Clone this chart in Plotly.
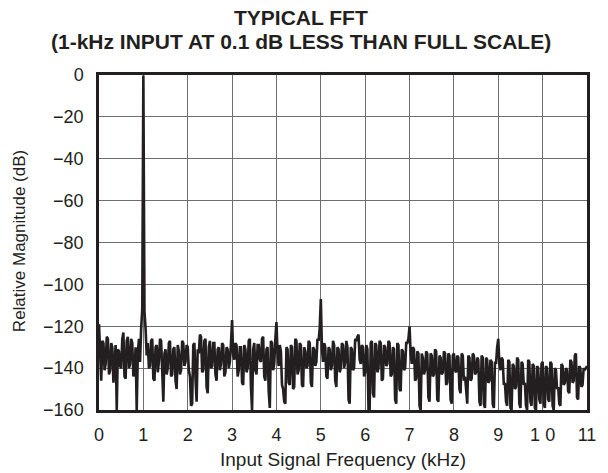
import plotly.graph_objects as go

# Frequency grid: 0 to 11 kHz in 0.025 kHz steps (x0/dx below)
freq_start_khz = 0.0
freq_step_khz = 0.025

# Relative magnitude (dB), one value per 0.025 kHz
noise_db = [
    # 0.000 - 0.975
    -119, -138, -146, -127, -128, -141, -138, -125, -126, -143, -141, -128, -130, -147, -136, -129, -160, -131, -132, -139,
    -140, -126, -123, -144, -145, -127, -125, -140, -138, -126, -128, -144, -142, -130, -160, -133, -126, -137, -121, -112,
    # 1.000 - 1.975
    -0.3, -113, -121, -134, -128, -140, -139, -127, -126, -145, -146, -130, -129, -142, -137, -126, -127, -148, -156, -133,
    -131, -143, -140, -128, -127, -144, -143, -131, -130, -146, -150, -129, -132, -143, -141, -127, -128, -139, -137, -129,
    # 2.000 - 2.975
    -130, -141, -144, -158, -157, -129, -128, -145, -156, -131, -133, -124, -125, -142, -141, -127, -126, -149, -152, -130,
    -127, -140, -139, -128, -128, -143, -146, -131, -130, -141, -138, -128, -129, -144, -142, -130, -131, -140, -137, -128,
    # 3.000 - 3.975
    -117, -134, -136, -128, -129, -144, -141, -130, -130, -147, -148, -129, -131, -142, -140, -127, -126, -149, -160, -131,
    -128, -141, -143, -129, -129, -136, -137, -126, -125, -144, -146, -131, -130, -151, -159, -127, -128, -141, -138, -126,
    # 4.000 - 4.975
    -118, -133, -139, -129, -132, -148, -150, -156, -157, -130, -131, -147, -148, -129, -130, -150, -149, -126, -127, -143,
    -141, -128, -129, -148, -149, -130, -132, -140, -139, -127, -128, -147, -149, -130, -131, -139, -137, -126, -127, -121,
    # 5.000 - 5.975
    -107, -131, -137, -128, -130, -144, -145, -130, -131, -141, -139, -127, -129, -146, -149, -130, -131, -142, -140, -128,
    -129, -140, -137, -127, -130, -155, -157, -130, -131, -141, -140, -126, -127, -125, -124, -136, -138, -129, -130, -144,
    # 6.000 - 6.975
    -142, -129, -131, -160, -160, -128, -127, -152, -154, -128, -129, -142, -140, -127, -128, -146, -145, -129, -130, -139,
    -138, -127, -128, -144, -143, -130, -131, -155, -157, -128, -129, -150, -151, -131, -132, -141, -140, -128, -128, -126,
    # 7.000 - 7.975
    -120, -133, -138, -130, -131, -146, -145, -132, -133, -158, -160, -133, -135, -143, -141, -132, -133, -154, -156, -133,
    -134, -144, -143, -131, -132, -155, -156, -134, -135, -143, -142, -132, -133, -148, -147, -133, -134, -155, -157, -134,
    # 8.000 - 8.975
    -133, -141, -142, -134, -135, -150, -152, -133, -134, -146, -144, -150, -157, -134, -135, -146, -145, -133, -134, -143,
    -142, -135, -136, -156, -158, -134, -135, -157, -159, -135, -136, -147, -146, -136, -137, -157, -159, -137, -138, -130,
    # 9.000 - 9.975
    -126, -138, -141, -135, -136, -148, -147, -156, -158, -136, -137, -159, -160, -138, -139, -150, -149, -135, -136, -157,
    -159, -137, -138, -148, -147, -158, -160, -136, -137, -156, -158, -138, -139, -159, -160, -139, -140, -155, -157, -138,
    # 10.000 - 10.975
    -137, -157, -159, -139, -140, -155, -156, -137, -138, -158, -160, -140, -141, -150, -149, -157, -158, -138, -139, -148,
    -147, -140, -141, -151, -152, -136, -137, -147, -146, -134, -133, -154, -155, -139, -140, -149, -148, -140, -141, -140,
    # 11.000
    -139,
]

x_tick_vals = [0, 1, 2, 3, 4, 5, 6, 7, 8, 9, 10, 11]
x_tick_text = ["0", "1", "2", "3", "4", "5", "6", "7", "8", "9", "1 0", "11"]
y_tick_vals = [0, -20, -40, -60, -80, -100, -120, -140, -160]

title_line1 = "TYPICAL FFT"
title_line2 = "(1-kHz INPUT AT 0.1 dB LESS THAN FULL SCALE)"
x_title = "Input Signal Frequency (kHz)"
y_title = "Relative Magnitude (dB)"

font_family = "Liberation Sans, Arial, sans-serif"
ink = "#231f20"

W, H = 608, 473
L, R, T, B = 99, 14, 75, 63
pw, ph = W - L - R, H - T - B


def px_to_paper_x(px):
    return (px - L) / pw


def px_to_paper_y(py):
    return (H - B - py) / ph


fig = go.Figure()
fig.add_trace(go.Scatter(
    x0=freq_start_khz, dx=freq_step_khz, y=noise_db,
    mode="lines",
    line=dict(color=ink, width=2.6),
    showlegend=False,
    hoverinfo="skip",
))

fig.update_layout(
    width=W, height=H,
    margin=dict(l=L, r=R, t=T, b=B),
    paper_bgcolor="white", plot_bgcolor="white",
    font=dict(family=font_family, size=18, color=ink),
    annotations=[
        dict(text="<b>" + title_line1 + "</b>", xref="paper", yref="paper",
             x=px_to_paper_x(304), y=px_to_paper_y(18),
             xanchor="center", yanchor="middle", showarrow=False,
             font=dict(size=21, color=ink)),
        dict(text="<b>" + title_line2 + "</b>", xref="paper", yref="paper",
             x=px_to_paper_x(304), y=px_to_paper_y(42),
             xanchor="center", yanchor="middle", showarrow=False,
             font=dict(size=21, color=ink)),
        dict(text=x_title, xref="paper", yref="paper",
             x=px_to_paper_x(346), y=px_to_paper_y(459),
             xanchor="center", yanchor="middle", showarrow=False,
             font=dict(size=19, color=ink)),
        dict(text=y_title, xref="paper", yref="paper",
             x=px_to_paper_x(18), y=px_to_paper_y(241),
             xanchor="center", yanchor="middle", showarrow=False,
             textangle=-90, font=dict(size=17, color=ink)),
    ],
)

fig.update_xaxes(
    range=[0, 11], tickvals=x_tick_vals, ticktext=x_tick_text,
    showgrid=True, gridcolor="#6d6e71", gridwidth=1,
    showline=True, linecolor=ink, linewidth=2.5, mirror=True,
    ticks="", zeroline=False, ticklabelstandoff=7,
    tickfont=dict(size=18),
)
fig.update_yaxes(
    range=[-160, 0], tickvals=y_tick_vals,
    showgrid=True, gridcolor="#6d6e71", gridwidth=1,
    showline=True, linecolor=ink, linewidth=2.5, mirror=True,
    ticks="", zeroline=False, ticklabelstandoff=9,
    tickfont=dict(size=18),
)

fig.write_html("out.html", config={"displayModeBar": False},
               post_script="document.body.style.margin='0';")
